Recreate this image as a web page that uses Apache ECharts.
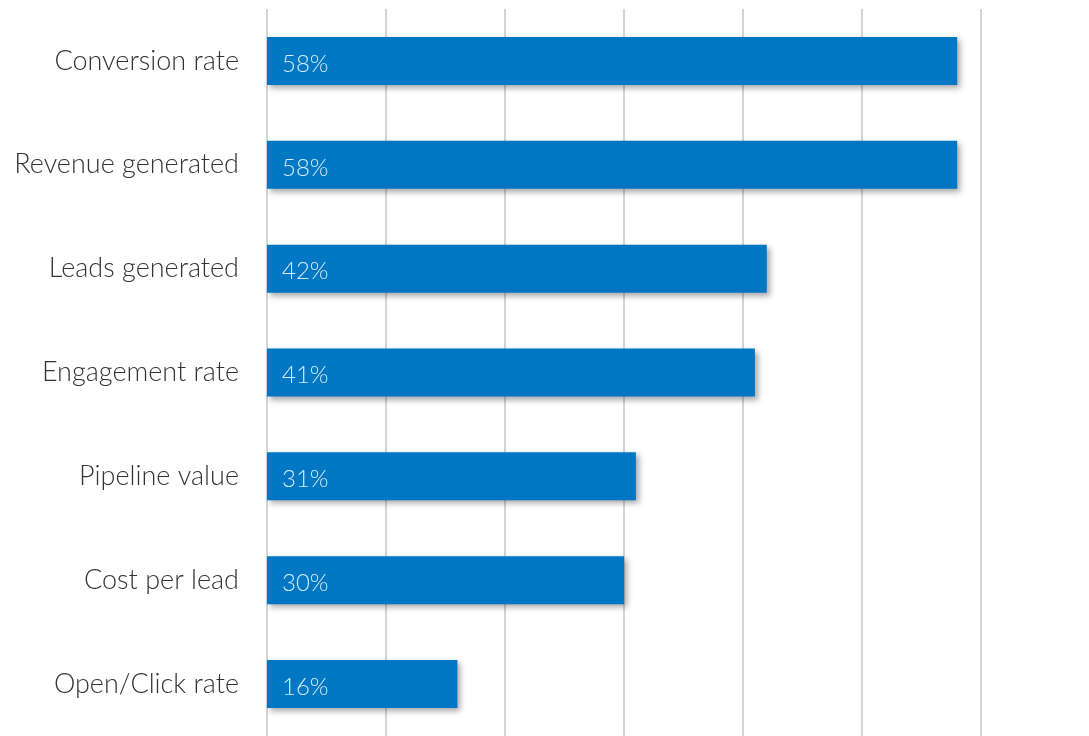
<!DOCTYPE html>
<html>
<head>
<meta charset="utf-8">
<script src="https://cdn.jsdelivr.net/npm/echarts@6/dist/echarts.min.js"></script>
<style>
  html, body { margin: 0; padding: 0; background: #ffffff; }
  #chart { width: 1089px; height: 736px; }
</style>
</head>
<body>
<div id="chart"></div>
<script>
// Metrics and their share of respondents (%)
const categories = [
  'Conversion rate',
  'Revenue generated',
  'Leads generated',
  'Engagement rate',
  'Pipeline value',
  'Cost per lead',
  'Open/Click rate'
];
const values = [58, 58, 42, 41, 31, 30, 16];
const axisMax = 60;
const axisStep = 10;

const chart = echarts.init(document.getElementById('chart'), null, { renderer: 'canvas' });

chart.setOption({
  animation: false,
  backgroundColor: '#ffffff',
  grid: { left: 267, right: 108, top: 9, bottom: -3, containLabel: false },
  xAxis: {
    type: 'value',
    min: 0,
    max: axisMax,
    interval: axisStep,
    axisLabel: { show: false },
    axisLine: { show: false },
    axisTick: { show: false },
    splitLine: { show: true, lineStyle: { color: '#d4d4d4', width: 2 } }
  },
  yAxis: {
    type: 'category',
    data: categories,
    inverse: true,
    axisLine: { show: false },
    axisTick: { show: false },
    axisLabel: {
      margin: 28,
      color: '#333333',
      fontFamily: 'Lato',
      fontSize: 27,
      fontWeight: 300
    }
  },
  series: [{
    type: 'bar',
    data: values,
    barWidth: 48,
    itemStyle: {
      color: '#0077c2',
      shadowColor: 'rgba(0,0,0,0.35)',
      shadowBlur: 6,
      shadowOffsetX: 3,
      shadowOffsetY: 3
    },
    label: {
      show: true,
      position: 'insideLeft',
      distance: 15,
      formatter: '{c}%',
      color: '#d6ebf8',
      fontFamily: 'Lato',
      fontSize: 24,
      fontWeight: 300,
      offset: [0, 3]
    }
  }]
});
</script>
</body>
</html>
